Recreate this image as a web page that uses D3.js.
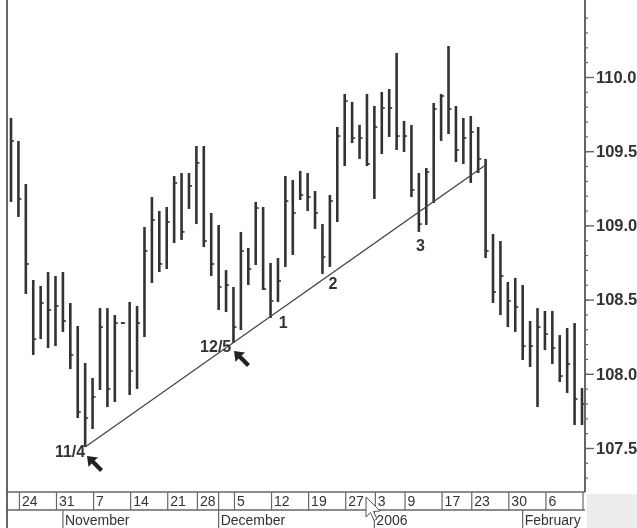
<!DOCTYPE html>
<html><head><meta charset="utf-8">
<script src="https://cdn.jsdelivr.net/npm/d3@7/dist/d3.min.js"></script>
<style>html,body{margin:0;padding:0;background:#fff;overflow:hidden}svg{display:block;filter:blur(0.4px)}text{font-family:"Liberation Sans",Arial,sans-serif;fill:#333}</style>
</head><body><svg id="c" width="637" height="528"></svg>
<script>
const highs=[109.724,109.569,109.279,108.632,108.592,108.686,108.659,108.686,108.477,108.322,108.073,107.972,108.443,108.443,108.396,108.349,108.484,108.457,108.989,109.191,109.097,109.124,109.333,109.353,109.353,109.535,109.535,109.084,109.003,108.699,108.585,108.956,108.848,109.158,109.124,108.747,108.780,109.333,109.306,109.367,109.353,109.232,109.009,109.205,109.663,109.886,109.832,109.677,109.886,109.805,109.899,109.919,110.162,109.704,109.677,109.353,109.387,109.825,109.886,110.209,109.805,109.724,109.737,109.663,109.448,108.942,108.895,108.619,108.646,108.598,108.356,108.443,108.423,108.423,108.261,108.309,108.342,107.904];
const lows=[109.158,109.057,108.538,108.127,108.234,108.174,108.187,108.282,108.032,107.702,107.507,107.628,107.891,107.776,107.810,108.336,107.857,107.898,108.248,108.612,108.686,108.706,108.881,108.902,109.111,109.009,108.854,108.659,108.430,108.416,108.208,108.295,108.598,108.733,108.565,108.376,108.484,108.720,108.801,109.171,109.097,108.976,108.673,108.720,109.023,109.400,109.555,109.448,109.400,109.178,109.481,109.596,109.508,109.495,109.191,108.956,109.003,109.151,109.569,109.616,109.427,109.414,109.286,109.353,108.780,108.477,108.396,108.315,108.282,108.093,108.046,107.776,108.160,108.066,107.945,107.871,107.655,107.655];
const closes=[109.569,109.178,108.740,108.234,108.477,108.430,108.457,108.356,108.127,107.743,107.702,107.844,108.315,107.898,108.342,108.342,108.019,108.342,108.828,109.036,108.740,109.023,109.286,108.956,109.266,109.421,108.895,108.740,108.585,108.598,108.315,108.828,108.706,109.117,108.571,108.491,108.625,109.164,109.084,109.205,109.191,109.084,108.787,109.164,109.602,109.838,109.589,109.589,109.414,109.663,109.791,109.791,109.602,109.602,109.239,109.009,109.360,109.784,109.872,109.784,109.508,109.589,109.629,109.448,108.828,108.551,108.659,108.491,108.450,108.187,108.187,108.315,108.268,108.174,107.985,108.066,107.830,107.796];
const dayLabels=["24","31","7","14","21","28","5","12","19","27","3","9","17","23","30","6"];
const dayIndex=[1,6,11,16,21,25,30,35,40,45,49,53,58,62,67,72];
const monthLabels=["November","December","2006","February"];
const monthIndex=[7,28,49,69];
const majorTicks=[107.5,108,108.5,109,109.5,110];
const trendIdx=[10,64];
const trendVal=[107.507,109.407];
const noteLabels=["11/4","12/5","1","2","3"];
const noteIdx=[10,29.7,36.7,43.4,55.2];
const noteVal=[107.44,108.147,108.309,108.571,108.827];
const noteAnchor=["end","end","middle","middle","middle"];
const arrowIdx=[10.25,30.07];
const arrowVal=[107.446,108.154];

const ink="#333", axisInk="#666";
const svg=d3.select("#c");
const x=d3.scaleLinear().domain([0,77]).range([11,582]);
const y=d3.scaleLinear().domain([107.5,110]).range([448,77]);
const plotBottom=492,rowBottom=510,axisX=585,leftX=7;

svg.append("rect").attr("x",587).attr("y",494).attr("width",50).attr("height",34).attr("fill","#ececec");

// bars
const g=svg.append("g");
g.selectAll("line.bar").data(highs).join("line").attr("class","bar")
 .attr("x1",(d,i)=>x(i)).attr("x2",(d,i)=>x(i))
 .attr("y1",d=>y(d)).attr("y2",(d,i)=>y(lows[i]))
 .attr("stroke",ink).attr("stroke-width",2.6);
g.selectAll("line.cl").data(closes).join("line").attr("class","cl")
 .attr("x1",(d,i)=>x(i)).attr("x2",(d,i)=>x(i)+3)
 .attr("y1",d=>y(d)).attr("y2",d=>y(d))
 .attr("stroke",ink).attr("stroke-width",1.6);

// trend line
svg.append("line").attr("x1",x(trendIdx[0])).attr("y1",y(trendVal[0])).attr("x2",x(trendIdx[1])).attr("y2",y(trendVal[1]))
 .attr("stroke","#444").attr("stroke-width",1.3);

// frame
const frame=svg.append("g").attr("stroke",axisInk).attr("fill","none");
frame.append("line").attr("x1",leftX).attr("x2",leftX).attr("y1",0).attr("y2",528).attr("stroke-width",2);
frame.append("line").attr("x1",leftX).attr("x2",axisX).attr("y1",plotBottom).attr("y2",plotBottom).attr("stroke-width",1.6);
frame.append("line").attr("x1",leftX).attr("x2",axisX).attr("y1",rowBottom).attr("y2",rowBottom).attr("stroke-width",1.6);

// right axis
const minor=d3.range(1073,1105).map(d=>d/10);
const axG=svg.append("g").attr("transform",`translate(${axisX},0)`);
axG.call(d3.axisRight(y).tickValues(minor).tickSize(3).tickFormat(""));
axG.select(".domain").attr("d",`M0,0V${plotBottom}`).attr("stroke",axisInk).attr("stroke-width",2);
axG.selectAll(".tick line").attr("stroke",axisInk).attr("stroke-width",1.2);
const maj=svg.append("g").attr("transform",`translate(${axisX},0)`);
maj.call(d3.axisRight(y).tickValues(majorTicks).tickSize(9).tickPadding(2).tickFormat(d3.format(".1f")));
maj.select(".domain").remove();
maj.selectAll(".tick line").attr("stroke",axisInk).attr("stroke-width",1.4);
maj.selectAll(".tick text").attr("font-size",16.5).attr("font-weight","bold").style("font-family",'"Liberation Sans",Arial,sans-serif').attr("fill",ink);

// date rows
const dt=svg.append("g");
dt.selectAll("line").data(dayIndex.concat([77])).join("line")
 .attr("x1",d=>x(d)+1).attr("x2",d=>x(d)+1).attr("y1",plotBottom).attr("y2",rowBottom).attr("stroke",axisInk).attr("stroke-width",1.2);
dt.selectAll("text").data(dayLabels).join("text")
 .attr("x",(d,i)=>x(dayIndex[i])+3.5).attr("y",506).attr("font-size",14).text(d=>d);
const mo=svg.append("g");
mo.selectAll("line").data(monthIndex).join("line")
 .attr("x1",d=>x(d)).attr("x2",d=>x(d)).attr("y1",rowBottom).attr("y2",528).attr("stroke",axisInk).attr("stroke-width",1.2);
mo.selectAll("text").data(monthLabels).join("text")
 .attr("x",(d,i)=>x(monthIndex[i])+2).attr("y",525).attr("font-size",14).text(d=>d);
svg.append("line").attr("x1",x(28)).attr("x2",x(28)).attr("y1",plotBottom).attr("y2",rowBottom).attr("stroke",axisInk).attr("stroke-width",1.2);

// notes
svg.append("g").selectAll("text").data(noteLabels).join("text")
 .attr("x",(d,i)=>x(noteIdx[i])).attr("y",(d,i)=>y(noteVal[i]))
 .attr("text-anchor",(d,i)=>noteAnchor[i])
 .attr("font-size",16).attr("font-weight","bold").text(d=>d);

// arrows
svg.append("g").selectAll("path").data(arrowIdx).join("path")
 .attr("transform",(d,i)=>`translate(${x(d)},${y(arrowVal[i])})`)
 .attr("d","M0,0L11,1.5L7.6,4.6L16,13L13,16L4.6,7.6L1.5,11Z").attr("fill","#222");

// mouse cursor
svg.append("path").attr("transform","translate(366,497)")
 .attr("d","M0,0V20L4.5,15.5L8,23.5L11,22L7.5,14.5L14,14Z").attr("fill","#fff").attr("stroke","#555").attr("stroke-width",1);
</script></body></html>
